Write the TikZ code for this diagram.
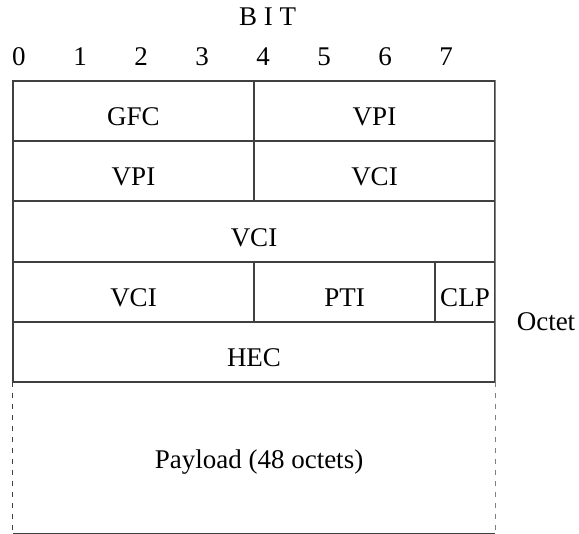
\documentclass[tikz,border=0pt]{standalone}
\usepackage{fontspec}
\setmainfont{Liberation Serif}
\usetikzlibrary{positioning}

\begin{document}
\begin{tikzpicture}[
        x=1pt, y=-1pt,
        font=\fontsize{27}{32}\selectfont,
        field/.style={rectangle, draw=black!75, line width=1.3pt, inner sep=0pt, minimum height=60pt, text height=30pt, text depth=0pt},
        bitnum/.style={inner sep=0pt},
        rightedge/.style={draw=black!50, line width=1.3pt},
        payloadline/.style={draw=black!75, line width=1.3pt, dash pattern=on 5pt off 6pt}
    ]

    % Fixed frame with the reference margins
    \useasboundingbox (0,0) rectangle (579,534);

    % Bit numbers across the top
    \node[inner sep=0pt] (bit) at (267.5,17) {B I T};
    \foreach \b in {0,...,7}
        \node[bitnum] (bit\b) at ({19+61*\b},56.5) {\b};

    % Header octets
    \node[field, minimum width=241pt] (gfc) at (133.5,111) {GFC};
    \node[field, minimum width=241pt] (vpia) at (374.5,111) {VPI};
    \node[field, minimum width=241pt] (vpib) at (133.5,171) {VPI};
    \node[field, minimum width=241pt] (vcia) at (374.5,171) {VCI};
    \node[field, minimum width=482pt, minimum height=61pt] (vcib) at (254,231.5) {VCI};
    \node[field, minimum width=241pt] (vcic) at (133.5,292) {VCI};
    \node[field, minimum width=181pt] (pti) at (344.5,292) {PTI};
    \node[field, minimum width=60pt] (clp) at (465,292) {CLP};
    \node[field, minimum width=482pt] (hec) at (254,352) {HEC};

    % Lighter right edge of the header
    \draw[rightedge] (vpia.north east) -- (hec.south east);

    \node[inner sep=0pt] (octet) at (546,322) {Octet};

    % Payload, open at the sides
    \node[inner sep=0pt, minimum width=482pt, minimum height=151pt] (payload) at (254,457.5) {};
    \node[inner sep=0pt, anchor=base] (paytext) at (259,469) {Payload (48 octets)};
    \draw[payloadline] (payload.north west) -- (payload.south west);
    \draw[payloadline, draw=black!50] (payload.north east) -- (payload.south east);
    \draw[draw=black!75, line width=1.3pt] (payload.south west) -- (payload.south east);

\end{tikzpicture}
\end{document}
